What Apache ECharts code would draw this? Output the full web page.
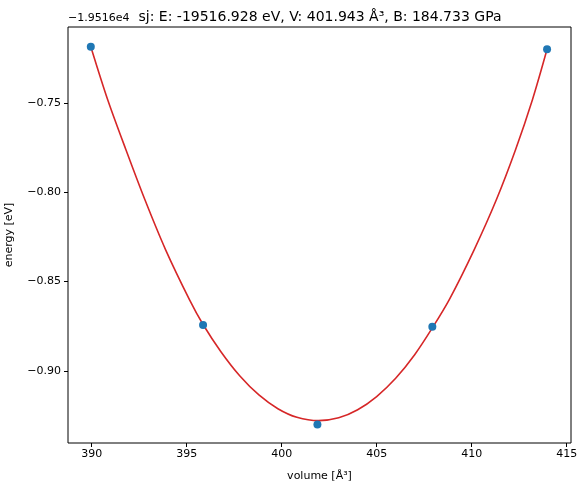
<!DOCTYPE html>
<html>
<head>
<meta charset="utf-8">
<script src="https://cdn.jsdelivr.net/npm/echarts@6/dist/echarts.min.js"></script>
<style>
  html, body { margin: 0; padding: 0; background: #fff; }
  #eos { width: 585px; height: 492px; }
</style>
</head>
<body>
<div id="eos"></div>
<script>
// calculated points (volume, energy offset from -19516 eV)
var volumes = [389.95, 395.86, 401.88, 407.93, 413.97];
var energies = [-0.7186, -0.8743, -0.9300, -0.8753, -0.7201];

// fitted EOS curve
var fitVolumes = [389.95, 390.84, 391.80, 392.80, 393.89, 395.15, 395.86, 396.80, 397.80, 398.80, 399.80, 400.80, 401.943, 403.00, 404.00, 405.00, 406.00, 407.00, 407.93, 408.83, 410.13, 411.30, 412.31, 413.20, 413.97];
var fitEnergies = [-0.7186, -0.7483, -0.7763, -0.8043, -0.8323, -0.8603, -0.8741, -0.8893, -0.9029, -0.9135, -0.9212, -0.9260, -0.9279, -0.9263, -0.9218, -0.9144, -0.9042, -0.8910, -0.8760, -0.8600, -0.8323, -0.8043, -0.7763, -0.7483, -0.7201];

var xTicks = [390, 395, 400, 405, 410, 415];
var yTicks = [-0.90, -0.85, -0.80, -0.75];

var font = 'DejaVu Sans';

function pairs(xs, ys) {
    var out = [];
    for (var i = 0; i < xs.length; i++) out.push([xs[i], ys[i]]);
    return out;
}

var chart = echarts.init(document.getElementById('eos'), null, { renderer: 'canvas' });
chart.setOption({
    animation: false,
    backgroundColor: '#fff',
    grid: {
        left: 68, right: 14, top: 27, bottom: 49,
        containLabel: false, outerBoundsMode: 'none',
        show: true, borderColor: '#000', borderWidth: 1, backgroundColor: 'transparent'
    },
    graphic: [
        {
            type: 'text', left: 68, top: 13,
            style: { text: '\u22121.9516e4', font: '11px "DejaVu Sans"', fill: '#000' }
        },
        {
            type: 'text', x: 320, y: 17,
            style: {
                text: 'sj: E: -19516.928 eV, V: 401.943 \u00c5\u00b3, B: 184.733 GPa',
                font: '14px "DejaVu Sans"', fill: '#000', align: 'center', verticalAlign: 'middle'
            }
        }
    ],
    xAxis: {
        type: 'value',
        min: 388.75,
        max: 415.23,
        name: 'volume [\u00c5\u00b3]',
        nameLocation: 'middle',
        nameGap: 28,
        nameTextStyle: { fontFamily: font, fontSize: 11, color: '#000' },
        axisLine: { show: false },
        splitLine: { show: false },
        axisTick: { show: true, length: 4, lineStyle: { color: '#000' }, customValues: xTicks },
        axisLabel: { fontFamily: font, fontSize: 11, color: '#000', margin: 6, customValues: xTicks }
    },
    yAxis: {
        type: 'value',
        min: -0.9404,
        max: -0.7076,
        name: 'energy [eV]',
        nameLocation: 'middle',
        nameGap: 53,
        nameTextStyle: { fontFamily: font, fontSize: 11, color: '#000' },
        axisLine: { show: false },
        splitLine: { show: false },
        axisTick: { show: true, length: 4, lineStyle: { color: '#000' }, customValues: yTicks },
        axisLabel: {
            fontFamily: font, fontSize: 11, color: '#000', margin: 7,
            customValues: yTicks,
            formatter: function (v) { return v.toFixed(2).replace('-', '\u2212'); }
        }
    },
    series: [
        {
            type: 'line',
            data: pairs(fitVolumes, fitEnergies),
            smooth: 0.3,
            showSymbol: false,
            lineStyle: { color: '#d62728', width: 1.6 },
            z: 2
        },
        {
            type: 'scatter',
            data: pairs(volumes, energies),
            symbolSize: 8,
            itemStyle: { color: '#1f77b4', opacity: 1 },
            z: 3
        }
    ]
});
</script>
</body>
</html>
